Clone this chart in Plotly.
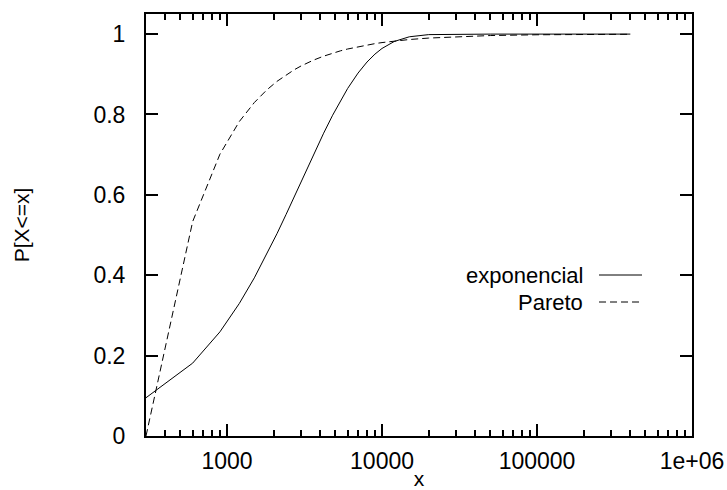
import plotly.graph_objects as go

x_vals = [300, 600, 900, 1200, 1500, 1800, 2100, 2400, 2700, 3000, 3600, 4200, 4800,
          5400, 6000, 7000, 8000, 9000, 10000, 12000, 15000, 20000, 30000, 50000,
          100000, 200000, 400000]
exponencial = [0.0952, 0.1813, 0.2592, 0.3297, 0.3935, 0.4512, 0.5034, 0.5507, 0.5934,
               0.6321, 0.6988, 0.7534, 0.7981, 0.8347, 0.8647, 0.9030, 0.9305, 0.9502,
               0.9643, 0.9817, 0.9933, 0.9987, 1.0, 1.0, 1.0, 1.0, 1.0]
pareto = [0.0, 0.5335, 0.7013, 0.7824, 0.8297, 0.8607, 0.8824, 0.8985, 0.9108, 0.9206,
          0.9350, 0.9451, 0.9526, 0.9584, 0.9629, 0.9687, 0.9730, 0.9763, 0.9789,
          0.9827, 0.9865, 0.9901, 0.9937, 0.9964, 0.9983, 0.9992, 0.9996]

x_ticks = [1000, 10000, 100000, 1000000]
x_ticktext = ["1000", "10000", "100000", "1e+06"]
y_ticks = [0, 0.2, 0.4, 0.6, 0.8, 1]
y_ticktext = ["0", "0.2", "0.4", "0.6", "0.8", "1"]

FONT = "Liberation Sans, Arial, Helvetica, sans-serif"

fig = go.Figure()
fig.add_trace(go.Scatter(x=x_vals, y=exponencial, mode="lines", name="exponencial",
                         line=dict(color="black", width=1)))
fig.add_trace(go.Scatter(x=x_vals, y=pareto, mode="lines", name="Pareto",
                         line=dict(color="black", width=1, dash="7px,4px")))

# gnuplot-style key: text right-aligned, line sample to the right
legend_items = [("exponencial", "solid", 0.3815), ("Pareto", "7px,4px", 0.3175)]
for label, dash, yp in legend_items:
    fig.add_annotation(x=0.803, y=yp, xref="paper", yref="paper", text=label,
                       showarrow=False, xanchor="right", yanchor="middle",
                       borderpad=0,
                       font=dict(size=22, color="black", family=FONT))
    fig.add_shape(type="line", xref="paper", yref="paper", x0=0.8297, x1=0.9084,
                  y0=yp, y1=yp, line=dict(color="black", width=1, dash=dash))

axis_common = dict(showgrid=False, zeroline=False, showline=True, linecolor="black",
                   linewidth=2, mirror="allticks", ticks="inside", tickcolor="black",
                   tickwidth=1.5, ticklen=12,
                   tickfont=dict(size=23, color="black", family=FONT))

fig.update_xaxes(type="log", range=[2.4771, 6], tickmode="array", tickvals=x_ticks,
                 ticktext=x_ticktext,
                 minor=dict(ticks="inside", ticklen=6, dtick="D1", tickcolor="black",
                            tickwidth=1.5, showgrid=False),
                 title=dict(text="x", font=dict(size=21, color="black", family=FONT),
                            standoff=5),
                 ticklabelstandoff=3, **axis_common)
fig.update_yaxes(range=[0, 1.05], tickmode="array", tickvals=y_ticks, ticktext=y_ticktext,
                 title=dict(text="P[X<=x]", font=dict(size=21, color="black", family=FONT),
                            standoff=58),
                 ticklabelstandoff=14, **axis_common)

fig.update_layout(width=727, height=490, showlegend=False,
                  margin=dict(l=146, r=35, t=14, b=54, autoexpand=False),
                  paper_bgcolor="white", plot_bgcolor="white",
                  font=dict(family=FONT, color="black"))

fig.write_html("out.html")
